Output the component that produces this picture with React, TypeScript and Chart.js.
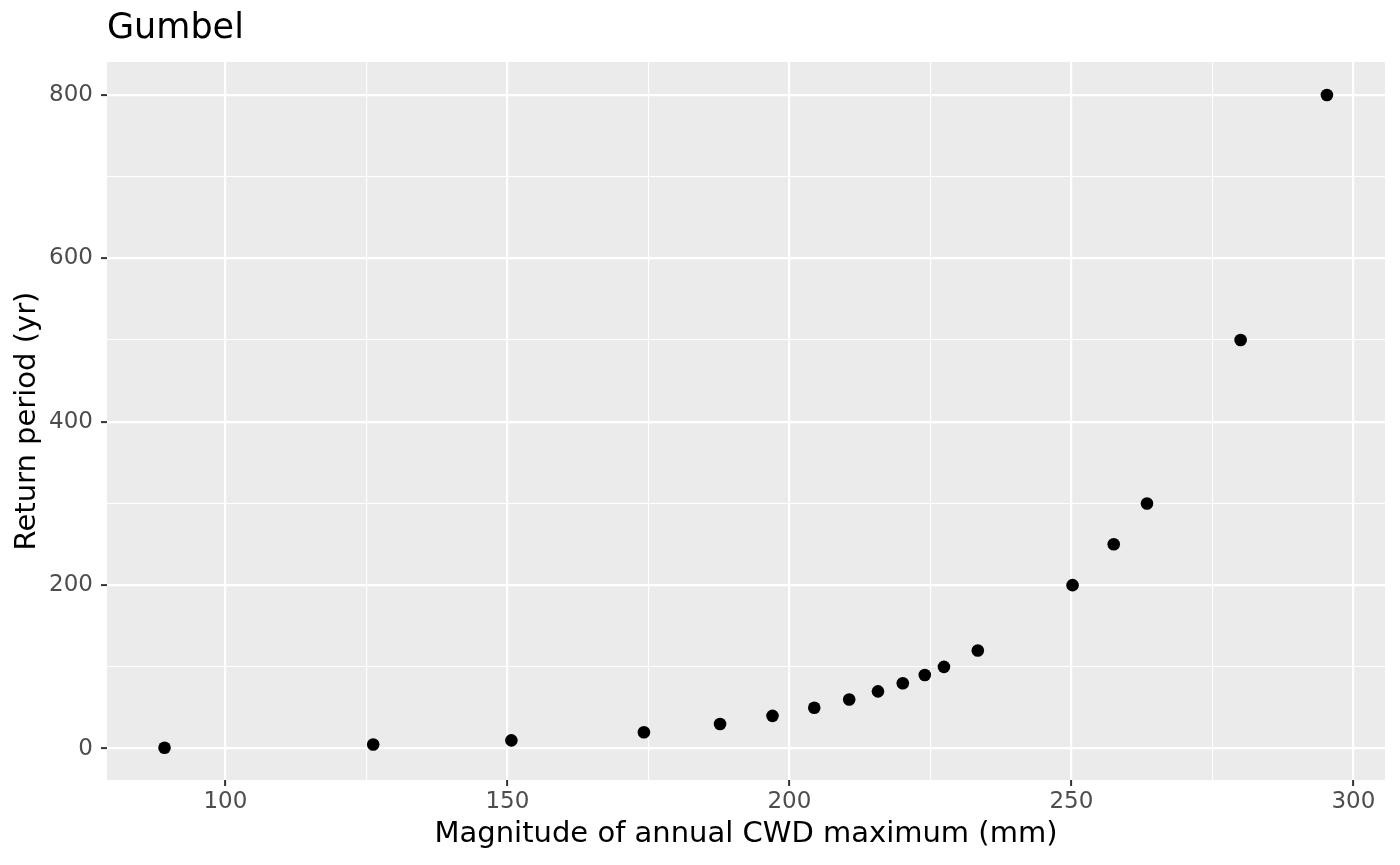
import { Chart, registerables } from "chart.js";
import type { Plugin } from "chart.js";
import { useEffect, useRef } from "react";

Chart.register(...registerables);

// magnitude of annual CWD maximum (mm) and the matching return period (yr)
const cwdMaximum = [
  89.2, 126.2, 150.7, 174.2, 187.7, 197.0, 204.4, 210.6, 215.7, 220.1, 224.0,
  227.4, 233.4, 250.2, 257.5, 263.4, 280.0, 295.3,
];
const returnPeriod = [
  1, 5, 10, 20, 30, 40, 50, 60, 70, 80, 90, 100, 120, 200, 250, 300, 500, 800,
];

const xMajorTicks = [100, 150, 200, 250, 300];
const xMinorTicks = [125, 175, 225, 275];
const yMajorTicks = [0, 200, 400, 600, 800];
const yMinorTicks = [100, 300, 500, 700];

const FONT = "'DejaVu Sans', sans-serif";

const panelBackground: Plugin<"scatter"> = {
  id: "panelBackground",
  beforeDraw(chart) {
    const { ctx, chartArea } = chart;
    ctx.save();
    ctx.fillStyle = "#EBEBEB";
    ctx.fillRect(
      chartArea.left,
      chartArea.top,
      chartArea.right - chartArea.left,
      chartArea.bottom - chartArea.top
    );
    ctx.restore();
  },
};

function gridScale(majors: number[], minors: number[]) {
  const isMajor = (v: number) => majors.includes(v);
  return {
    grid: {
      color: "#FFFFFF",
      lineWidth: (ctx: any) => (isMajor(ctx.tick?.value) ? 2.2 : 1.1),
      drawTicks: true,
      tickLength: 6,
      tickWidth: 2,
      tickColor: (ctx: any) =>
        isMajor(ctx.tick?.value) ? "#333333" : "rgba(0,0,0,0)",
    },
    border: { display: false },
    afterBuildTicks: (axis: any) => {
      axis.ticks = [...majors, ...minors]
        .sort((a, b) => a - b)
        .map((value) => ({ value }));
    },
    isMajor,
  };
}

export default function App() {
  const canvasRef = useRef<HTMLCanvasElement | null>(null);

  useEffect(() => {
    document.body.style.margin = "0";
    if (!canvasRef.current) return;

    const xg = gridScale(xMajorTicks, xMinorTicks);
    const yg = gridScale(yMajorTicks, yMinorTicks);

    const chart = new Chart(canvasRef.current, {
      type: "scatter",
      data: {
        datasets: [
          {
            data: cwdMaximum.map((x, i) => ({ x, y: returnPeriod[i] })),
            backgroundColor: "#000000",
            borderWidth: 0,
            pointRadius: 6.3,
            pointHoverRadius: 6.3,
          },
        ],
      },
      options: {
        responsive: true,
        maintainAspectRatio: false,
        animation: false,
        layout: { padding: { left: 0, right: 15, top: 0, bottom: 0 } },
        plugins: {
          legend: { display: false },
          tooltip: { enabled: false },
          title: {
            display: true,
            text: "Gumbel",
            align: "start",
            fullSize: false,
            color: "#000000",
            font: { family: FONT, size: 35, weight: "normal" },
            padding: { top: 8, bottom: 12 },
          },
        },
        scales: {
          x: {
            type: "linear",
            min: 79.0,
            max: 305.6,
            grid: xg.grid,
            border: xg.border,
            afterBuildTicks: xg.afterBuildTicks,
            afterFit: (scale: any) => {
              scale.height = 85;
            },
            ticks: {
              autoSkip: false,
              maxRotation: 0,
              padding: 2,
              color: "#4D4D4D",
              font: { family: FONT, size: 23 },
              callback: (value: any) =>
                xg.isMajor(Number(value)) ? String(value) : "",
            },
            title: {
              display: true,
              text: "Magnitude of annual CWD maximum (mm)",
              color: "#000000",
              font: { family: FONT, size: 29 },
              padding: { top: 0, bottom: 13 },
            },
          },
          y: {
            type: "linear",
            min: -38.5,
            max: 840.3,
            grid: yg.grid,
            border: yg.border,
            afterBuildTicks: yg.afterBuildTicks,
            afterFit: (scale: any) => {
              scale.width = 107;
            },
            ticks: {
              autoSkip: false,
              padding: 8,
              color: "#4D4D4D",
              font: { family: FONT, size: 23 },
              callback: (value: any) =>
                yg.isMajor(Number(value)) ? String(value) : "",
            },
            title: {
              display: true,
              text: "Return period (yr)",
              color: "#000000",
              font: { family: FONT, size: 29 },
              padding: { top: 10, bottom: 0 },
            },
          },
        },
      },
      plugins: [panelBackground],
    });

    return () => chart.destroy();
  }, []);

  return (
    <div style={{ width: 1400, height: 865, position: "relative" }}>
      <canvas ref={canvasRef} aria-label="Gumbel return period chart" />
    </div>
  );
}
